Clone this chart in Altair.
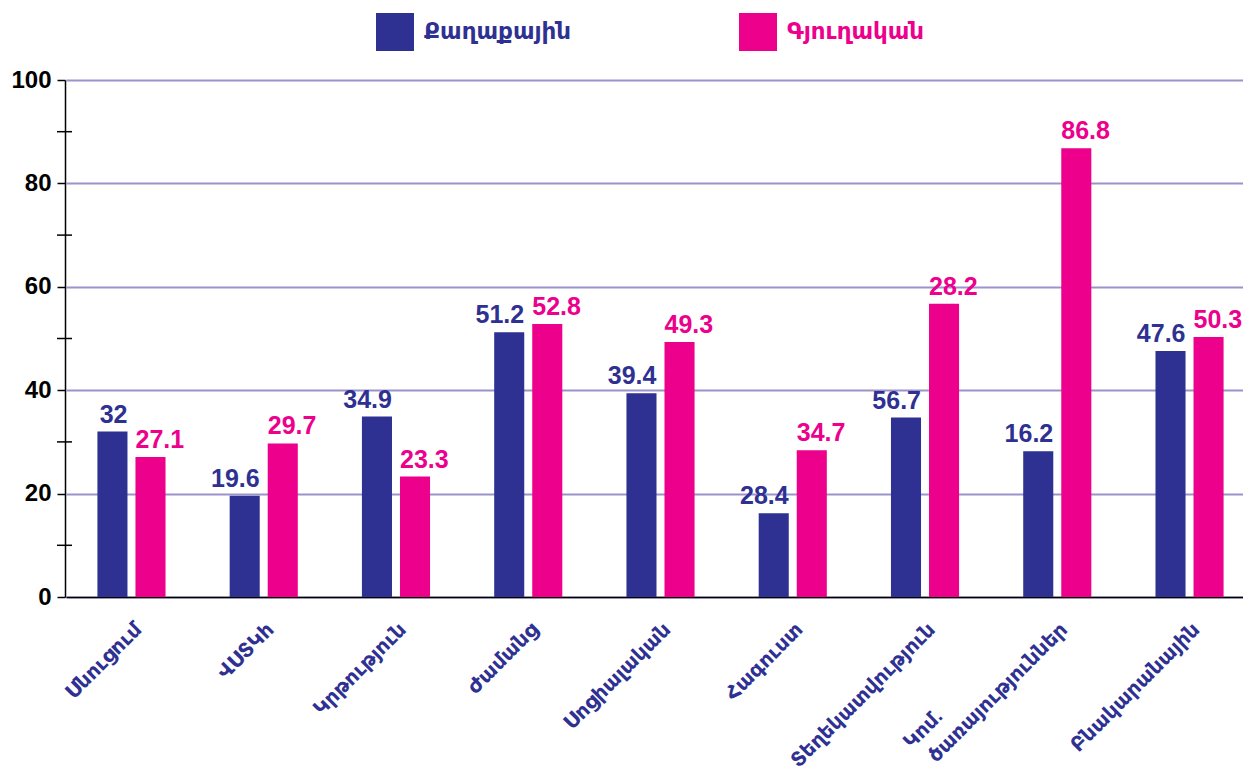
import altair as alt
import pandas as pd

categories = ["Սնուցում", "ՎՍՏԿհ", "Կրթություն", "Ժամանց", "Սոցիալական",
              "Հագուստ", "Տեղեկատվություն", "Կոմ.|ծառայություններ", "Բնակարանային"]
series = ["Քաղաքային", "Գյուղական"]
urban = [32, 19.6, 34.9, 51.2, 39.4, 16.2, 34.7, 28.2, 47.6]
rural = [27.1, 29.7, 23.3, 52.8, 49.3, 28.4, 56.7, 86.8, 50.3]
urban_labels = ["32", "19.6", "34.9", "51.2", "39.4", "28.4", "56.7", "16.2", "47.6"]
rural_labels = ["27.1", "29.7", "23.3", "52.8", "49.3", "34.7", "28.2", "86.8", "50.3"]
colors = ["#2e3192", "#ec008c"]
major_ticks = [0, 20, 40, 60, 80, 100]
minor_ticks = [10, 30, 50, 70, 90]

rows = []
for i, c in enumerate(categories):
    rows.append({"cat": c, "series": series[0], "value": urban[i], "label": urban_labels[i]})
    rows.append({"cat": c, "series": series[1], "value": rural[i], "label": rural_labels[i]})
df = pd.DataFrame(rows)
minor_df = pd.DataFrame({"v": minor_ticks})
first_lines = pd.DataFrame([{"cat": c, "first": c.split("|")[0]} for c in categories if "|" in c])

FONT = "Liberation Sans, Arial, DejaVu Sans"
W, H = 1178, 517

label_expr = "indexof(datum.label, '|') >= 0 ? split(datum.label, '|')[1] : datum.label"

x_enc = alt.X("cat:N", sort=categories,
              scale=alt.Scale(paddingInner=0.485, paddingOuter=0.2375, round=False,
                              range=[1, 1190]),
              axis=alt.Axis(title=None, labelAngle=-45, labelFont=FONT, labelFontSize=20,
                            labelFontWeight="bold", labelColor="#2e3192", ticks=False,
                            domainColor="black", domainWidth=1.5, labelPadding=22,
                            labelLimit=0, labelExpr=label_expr))
xoff = alt.XOffset("series:N", sort=series,
                   scale=alt.Scale(paddingInner=0.21, paddingOuter=0, round=False))
y_enc = alt.Y("value:Q", scale=alt.Scale(domain=[0, 100], nice=False),
              axis=alt.Axis(title=None, values=major_ticks, tickSize=8, tickColor="black",
                            tickWidth=1.5, domainColor="black", domainWidth=1.5,
                            gridColor="#9b93cc", gridWidth=2,
                            labelFont=FONT, labelFontSize=24, labelFontWeight="bold",
                            labelColor="black", labelPadding=6))

base = alt.Chart(df)

bars = base.mark_bar().encode(
    x=x_enc, xOffset=xoff, y=y_enc,
    color=alt.Color("series:N", sort=series,
                    scale=alt.Scale(domain=series, range=colors),
                    legend=alt.Legend(orient="none", legendX=311, legendY=-67,
                                      direction="horizontal", title=None,
                                      symbolType="square", symbolSize=1444,
                                      symbolStrokeWidth=0, symbolOpacity=1,
                                      labelFont=FONT, labelFontSize=23,
                                      labelFontWeight="bold", labelOffset=10,
                                      labelColor=alt.ExprRef(
                                          expr="datum.label == 'Քաղաքային' ? '#2e3192' : '#ec008c'"),
                                      columnPadding=167, padding=0, labelLimit=0))
)

text_u = base.transform_filter(alt.datum.series == series[0]).mark_text(
    align="right", baseline="bottom", dx=15, dy=-4, font=FONT, fontSize=25,
    fontWeight="bold", color=colors[0]
).encode(x=x_enc, xOffset=xoff, y=y_enc, text="label:N")

text_r = base.transform_filter(alt.datum.series == series[1]).mark_text(
    align="left", baseline="bottom", dx=-15, dy=-4, font=FONT, fontSize=25,
    fontWeight="bold", color=colors[1]
).encode(x=x_enc, xOffset=xoff, y=y_enc, text="label:N")

first_line = alt.Chart(first_lines).mark_text(
    align="left", baseline="middle", angle=315, dx=-192, dy=-20,
    font=FONT, fontSize=20, fontWeight="bold", color="#2e3192"
).encode(x=x_enc, y=alt.value(H + 27), text="first:N")

minor = alt.Chart(minor_df).mark_rule(color="black", strokeWidth=1.5).encode(
    y=alt.Y("v:Q"), x=alt.value(-8), x2=alt.value(7)
)

chart = alt.layer(bars, text_u, text_r, first_line, minor).properties(
    width=W, height=H, autosize="none",
    padding={"left": 57, "top": 72, "right": 0, "bottom": 170}
).configure_view(stroke=None).configure(background="white")

chart.save("out.html", embed_options={"renderer": "svg", "actions": False})
